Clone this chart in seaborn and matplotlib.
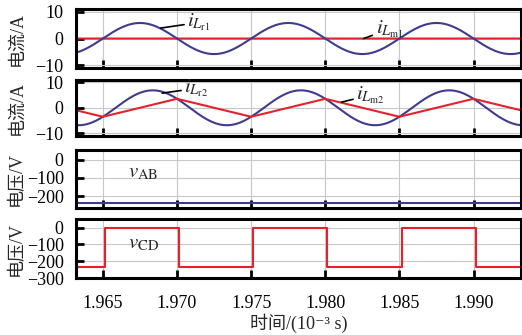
import numpy as np
import pandas as pd
import seaborn as sns
import matplotlib
matplotlib.use("Agg")
import matplotlib.pyplot as plt

# ---- waveform data (time in 10^-3 s) ----
switch_times = [1.960, 1.965, 1.970, 1.975, 1.980, 1.985, 1.990, 1.995]
period = 0.010
ilr1_peak = 5.8          # A, resonant current, channel 1
ilm1_level = 0.0         # A, magnetising current, channel 1
ilr2_peak = 6.8          # A, resonant current, channel 2
ilm2_peak = 3.5          # A, magnetising current peak, channel 2
vab_level = -240.0       # V
vcd_levels = [0.0, -235.0]   # V, high / low
vcd_delay = 0.00015      # switching delay of v_CD

t_lo, t_hi = 1.9632, 1.9932
t = np.linspace(t_lo, t_hi, 1500)

# resonant currents (sinusoids)
ilr1 = ilr1_peak * np.sin(2 * np.pi * (t - switch_times[1]) / period)
phase2 = np.arcsin(ilm2_peak / ilr2_peak)
ilr2 = ilr2_peak * np.sin(2 * np.pi * (t - switch_times[1]) / period - phase2)
ilm1 = np.full_like(t, ilm1_level)

# triangular magnetising current: vertices at each switching instant
tri_t = switch_times
tri_v = [ilm2_peak if i % 2 == 0 else -ilm2_peak for i in range(len(tri_t))]

# square wave v_CD: step vertices
sq_t, sq_v = [], []
for i, ts in enumerate(switch_times):
    lvl_before = vcd_levels[0] if i % 2 == 0 else vcd_levels[1]
    lvl_after = vcd_levels[1] if i % 2 == 0 else vcd_levels[0]
    sq_t += [ts + vcd_delay, ts + vcd_delay]
    sq_v += [lvl_before, lvl_after]

df1 = pd.DataFrame({"t": np.concatenate([t, t]),
                    "v": np.concatenate([ilr1, ilm1]),
                    "s": ["ilr1"] * len(t) + ["ilm1"] * len(t)})
df2a = pd.DataFrame({"t": t, "v": ilr2})
df2b = pd.DataFrame({"t": tri_t, "v": tri_v})
df3 = pd.DataFrame({"t": [t_lo - 0.001, t_hi + 0.001], "v": [vab_level, vab_level]})
df4 = pd.DataFrame({"t": sq_t, "v": sq_v})

sns.set_theme(style="white")
plt.rcParams["font.family"] = ["Liberation Serif", "DejaVu Serif", "Noto Sans CJK SC"]
plt.rcParams["mathtext.fontset"] = "stix"
plt.rcParams["axes.unicode_minus"] = True

BLUE = "#3f3c8f"
RED = "#e5222c"
FS = 13
AFS = 15

fig = plt.figure(figsize=(5.22, 3.35), dpi=100)
L, W = 0.146, 0.852
positions = [(0.797, 0.176), (0.594, 0.167), (0.379, 0.174), (0.170, 0.176)]
axes = [fig.add_axes([L, b, W, h]) for b, h in positions]

xticks = [1.965, 1.970, 1.975, 1.980, 1.985, 1.990]
common = dict(estimator=None, sort=False, lw=1.5)

sns.lineplot(data=df1, x="t", y="v", hue="s", palette={"ilr1": BLUE, "ilm1": RED},
             hue_order=["ilm1", "ilr1"], ax=axes[0], legend=False, **common)
sns.lineplot(data=df2a, x="t", y="v", color=BLUE, ax=axes[1], **common)
sns.lineplot(data=df2b, x="t", y="v", color=RED, ax=axes[1], **common)
sns.lineplot(data=df3, x="t", y="v", color=BLUE, ax=axes[2], **common)
sns.lineplot(data=df4, x="t", y="v", color=RED, ax=axes[3], **common)

ylims = [(-11, 11), (-11, 10.8), (-265, 55), (-300, 50)]
yticks = [[-10, 0, 10], [-10, 0, 10], [-200, -100, 0], [-300, -200, -100, 0]]
ylabels = ["电流/A", "电流/A", "电压/V", "电压/V"]

for ax, yl, yt, lab in zip(axes, ylims, yticks, ylabels):
    ax.set_xlim(t_lo, t_hi)
    ax.set_ylim(*yl)
    ax.set_xticks(xticks)
    ax.set_yticks(yt)
    ax.grid(True, color="#c8c8c8", lw=0.8)
    ax.set_axisbelow(True)
    for sp in ax.spines.values():
        sp.set_visible(True)
        sp.set_color("black")
        sp.set_linewidth(2.2)
    ax.tick_params(axis="both", direction="in", length=6, width=2, colors="black",
                   labelsize=FS)
    ax.tick_params(axis="y", pad=9)
    ax.tick_params(axis="x", pad=12)
    ax.tick_params(axis="x", bottom=True, top=False)
    ax.tick_params(axis="y", left=True, right=False)
    ax.set_ylabel(lab, fontsize=FS)
    ax.yaxis.set_label_coords(-0.115, 0.5)
    ax.set_xlabel("")
    if ax is not axes[-1]:
        ax.tick_params(axis="x", labelbottom=False)

axes[-1].set_xticklabels([f"{v:.3f}" for v in xticks])
axes[-1].set_xlabel("时间/(10⁻³ s)", fontsize=FS, labelpad=1)

arrow = dict(arrowstyle="-", color="black", lw=1.2, shrinkA=0, shrinkB=0)
axes[0].annotate(r"$i_{L_{\mathrm{r1}}}$", xy=(1.9689, 3.9), xytext=(1.9707, 6.0),
                 fontsize=AFS, va="center", ha="left", arrowprops=arrow)
axes[0].annotate(r"$i_{L_{\mathrm{m1}}}$", xy=(1.9826, 0.0), xytext=(1.9834, 3.6),
                 fontsize=AFS, va="center", ha="left", arrowprops=arrow)
axes[1].annotate(r"$i_{L_{\mathrm{r2}}}$", xy=(1.9690, 5.7), xytext=(1.9705, 7.6),
                 fontsize=AFS, va="center", ha="left", arrowprops=arrow)
axes[1].annotate(r"$i_{L_{\mathrm{m2}}}$", xy=(1.9811, 2.2), xytext=(1.9821, 5.0),
                 fontsize=AFS, va="center", ha="left", arrowprops=arrow)
axes[2].text(1.9667, -70, r"$v_{\mathrm{AB}}$", fontsize=AFS, va="center", ha="left")
axes[3].text(1.9667, -95, r"$v_{\mathrm{CD}}$", fontsize=AFS, va="center", ha="left")

fig.savefig("out.png", dpi=100)
